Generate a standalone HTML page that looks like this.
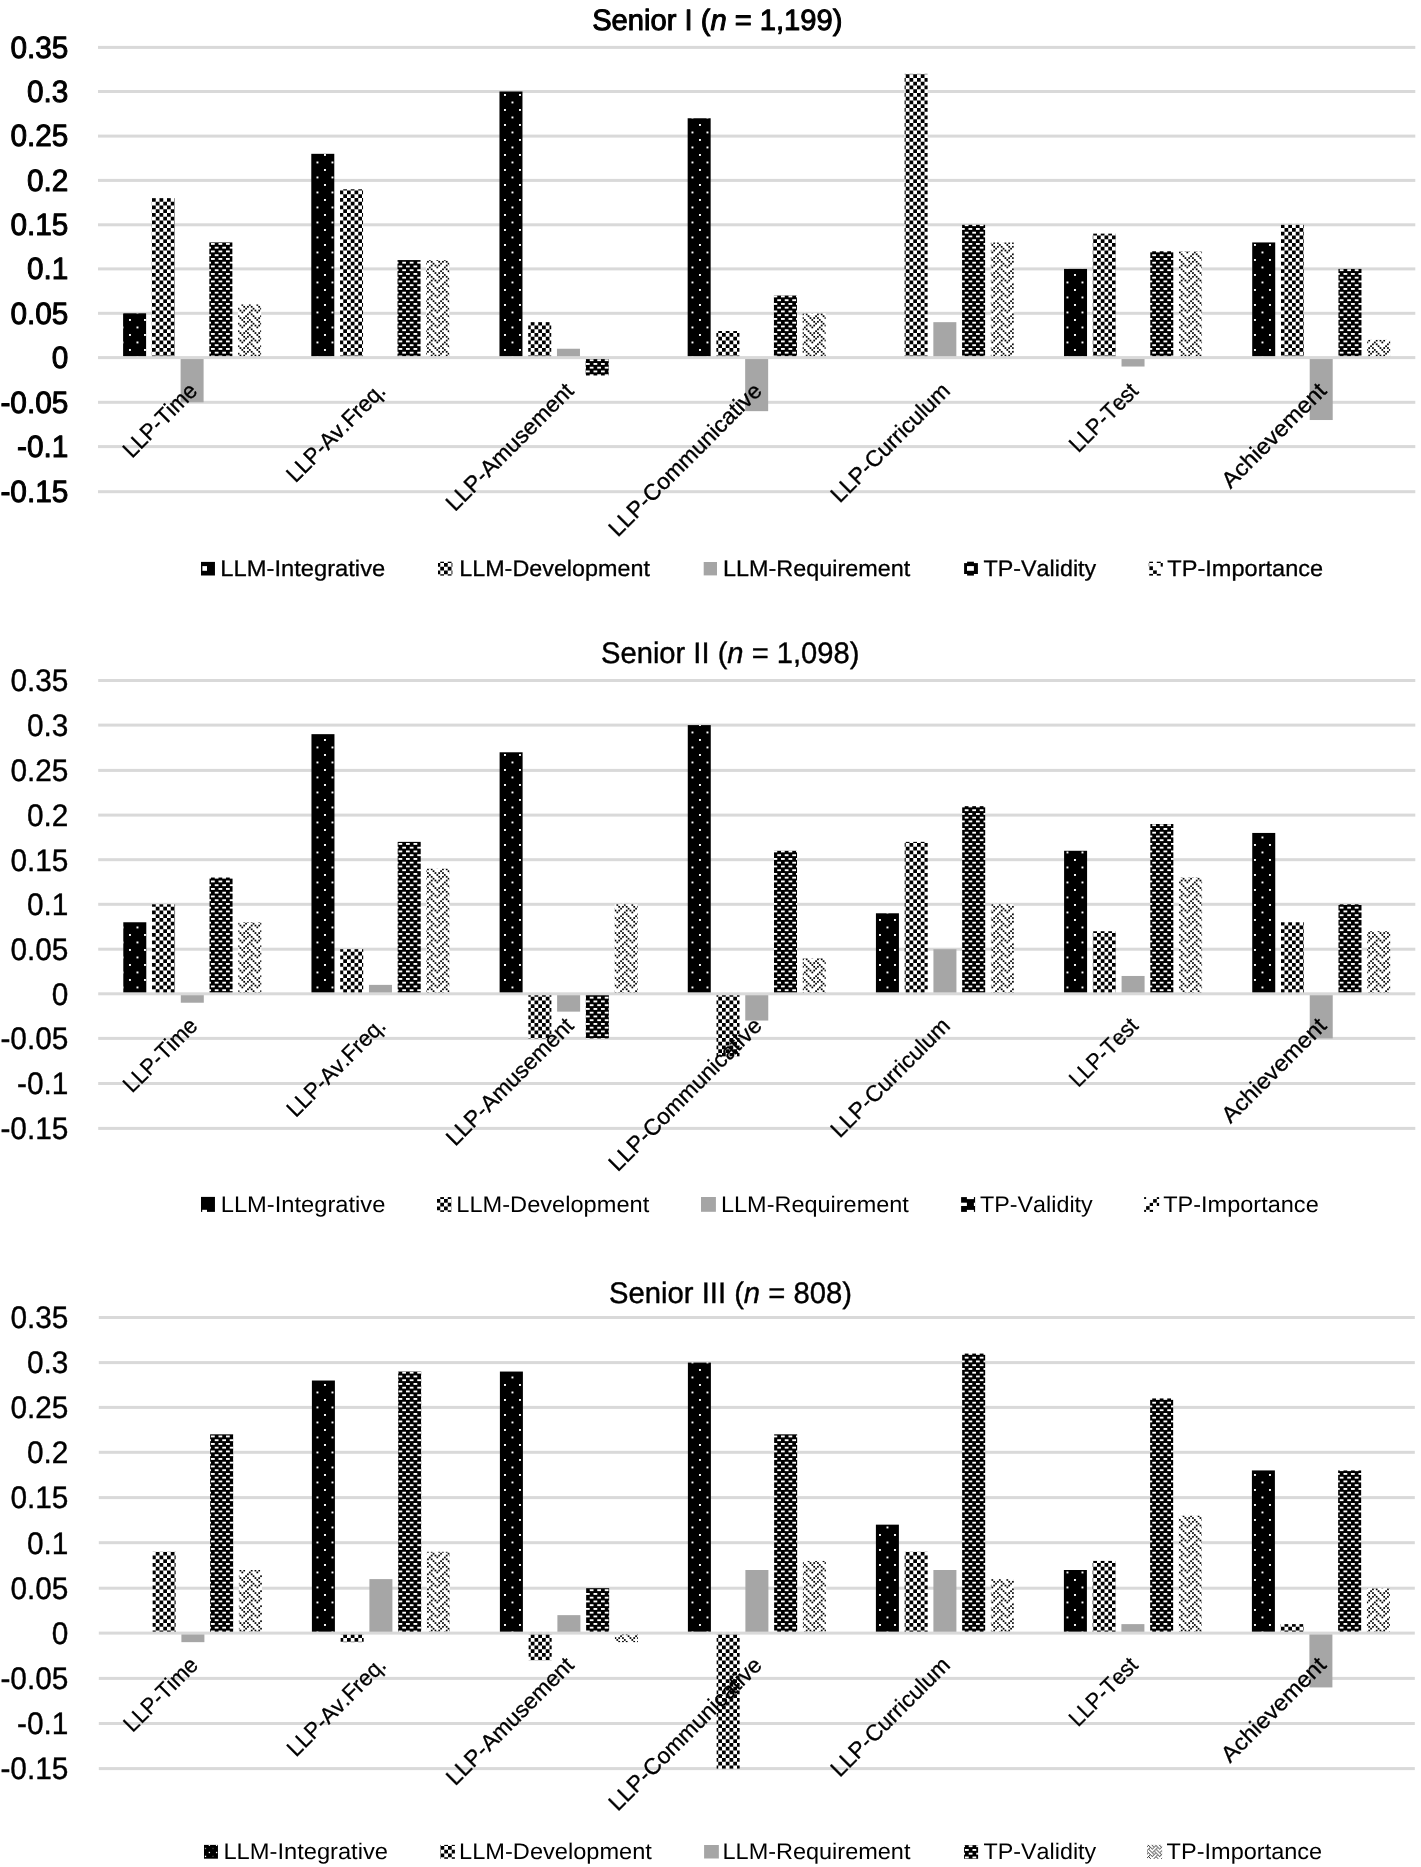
<!DOCTYPE html>
<html lang="en"><head><meta charset="utf-8"><title>Senior I, II, III bar charts</title>
<style>html,body{margin:0;padding:0;background:#fff;}body{width:1421px;height:1867px;overflow:hidden;}svg{display:block;will-change:transform;}text{font-family:"Liberation Sans", sans-serif;font-kerning:none;text-rendering:geometricPrecision;}</style>
</head><body>
<svg width="1421" height="1867" viewBox="0 0 1421 1867" role="img" aria-label="Bar charts for Senior I, Senior II and Senior III">
<rect width="1421" height="1867" fill="#fff"/>
<defs>
<pattern id="pDot" patternUnits="userSpaceOnUse" x="504" y="94" width="15" height="15"><rect width="16" height="16" fill="#000"/><rect x="0" y="0" width="1.93" height="1.93" fill="#fff"/><rect x="7.5" y="7.5" width="1.93" height="1.93" fill="#fff"/></pattern>
<pattern id="pChk" patternUnits="userSpaceOnUse" x="152" y="198" width="15" height="15"><rect width="16" height="16" fill="#fff"/><g fill="#000"><rect x="0" y="0" width="3.75" height="3.75"/><rect x="0" y="7.5" width="3.75" height="3.75"/><rect x="3.75" y="3.75" width="3.75" height="3.75"/><rect x="3.75" y="11.25" width="3.75" height="3.75"/><rect x="7.5" y="0" width="3.75" height="3.75"/><rect x="7.5" y="7.5" width="3.75" height="3.75"/><rect x="11.25" y="3.75" width="3.75" height="3.75"/><rect x="11.25" y="11.25" width="3.75" height="3.75"/></g></pattern>
<pattern id="pBrk" patternUnits="userSpaceOnUse" x="211" y="243" width="15" height="15"><rect width="16" height="16" fill="#000"/><g fill="#fff"><rect x="0" y="0" width="3.75" height="1.88"/><rect x="7.5" y="0" width="3.75" height="1.88"/><rect x="3.75" y="3.75" width="3.75" height="1.88"/><rect x="11.25" y="3.75" width="3.75" height="1.88"/><rect x="0" y="7.5" width="3.75" height="1.88"/><rect x="7.5" y="7.5" width="3.75" height="1.88"/><rect x="3.75" y="11.25" width="3.75" height="1.88"/><rect x="11.25" y="11.25" width="3.75" height="1.88"/></g></pattern>
<pattern id="pWev" patternUnits="userSpaceOnUse" x="427" y="259" width="15" height="15"><rect width="16" height="16" fill="#fff"/><g fill="#000"><rect x="1.94" y="0.07" width="1.74" height="1.74"/><rect x="9.44" y="0.07" width="1.74" height="1.74"/><rect x="0.07" y="1.94" width="1.74" height="1.74"/><rect x="3.82" y="1.94" width="1.74" height="1.74"/><rect x="11.32" y="1.94" width="1.74" height="1.74"/><rect x="5.69" y="3.82" width="1.74" height="1.74"/><rect x="13.19" y="3.82" width="1.74" height="1.74"/><rect x="3.82" y="5.69" width="1.74" height="1.74"/><rect x="7.57" y="5.69" width="1.74" height="1.74"/><rect x="11.32" y="5.69" width="1.74" height="1.74"/><rect x="1.94" y="7.57" width="1.74" height="1.74"/><rect x="9.44" y="7.57" width="1.74" height="1.74"/><rect x="0.07" y="9.44" width="1.74" height="1.74"/><rect x="3.82" y="9.44" width="1.74" height="1.74"/><rect x="5.69" y="11.32" width="1.74" height="1.74"/><rect x="13.19" y="11.32" width="1.74" height="1.74"/><rect x="0.07" y="13.19" width="1.74" height="1.74"/><rect x="7.57" y="13.19" width="1.74" height="1.74"/><rect x="11.32" y="13.19" width="1.74" height="1.74"/></g></pattern>
</defs>
<g>
<g fill="#d9d9d9">
<rect x="98" y="45.9" width="1317.3" height="3"/>
<rect x="98" y="90" width="1317.3" height="3"/>
<rect x="98" y="134.6" width="1317.3" height="3"/>
<rect x="98" y="178.9" width="1317.3" height="3"/>
<rect x="98" y="223.3" width="1317.3" height="3"/>
<rect x="98" y="267.4" width="1317.3" height="3"/>
<rect x="98" y="311.8" width="1317.3" height="3"/>
<rect x="98" y="400.8" width="1317.3" height="3"/>
<rect x="98" y="445.1" width="1317.3" height="3"/>
<rect x="98" y="490.2" width="1317.3" height="3"/>
</g>
<g>
<rect x="123.1" y="313.3" width="23" height="44.3" fill="url(#pDot)"/>
<rect x="151.85" y="198.16" width="23" height="159.44" fill="url(#pChk)"/>
<rect x="180.6" y="357.6" width="23" height="44.7" fill="#a6a6a6"/>
<rect x="209.35" y="242.44" width="23" height="115.16" fill="url(#pBrk)"/>
<rect x="238.1" y="304.42" width="23" height="53.18" fill="url(#pWev)"/>
<rect x="311.29" y="153.82" width="23" height="203.78" fill="url(#pDot)"/>
<rect x="340.04" y="189.28" width="23" height="168.32" fill="url(#pChk)"/>
<rect x="397.54" y="260.08" width="23" height="97.52" fill="url(#pBrk)"/>
<rect x="426.29" y="260.08" width="23" height="97.52" fill="url(#pWev)"/>
<rect x="499.47" y="91.5" width="23" height="266.1" fill="url(#pDot)"/>
<rect x="528.22" y="322.16" width="23" height="35.44" fill="url(#pChk)"/>
<rect x="556.97" y="348.74" width="23" height="8.86" fill="#a6a6a6"/>
<rect x="585.72" y="357.6" width="23" height="17.88" fill="url(#pBrk)"/>
<rect x="687.66" y="118.26" width="23" height="239.34" fill="url(#pDot)"/>
<rect x="716.41" y="331.02" width="23" height="26.58" fill="url(#pChk)"/>
<rect x="745.16" y="357.6" width="23" height="53.56" fill="#a6a6a6"/>
<rect x="773.91" y="295.54" width="23" height="62.06" fill="url(#pBrk)"/>
<rect x="802.66" y="313.3" width="23" height="44.3" fill="url(#pWev)"/>
<rect x="904.59" y="73.86" width="23" height="283.74" fill="url(#pChk)"/>
<rect x="933.34" y="322.16" width="23" height="35.44" fill="#a6a6a6"/>
<rect x="962.09" y="224.8" width="23" height="132.8" fill="url(#pBrk)"/>
<rect x="990.84" y="242.44" width="23" height="115.16" fill="url(#pWev)"/>
<rect x="1064.03" y="268.9" width="23" height="88.7" fill="url(#pDot)"/>
<rect x="1092.78" y="233.62" width="23" height="123.98" fill="url(#pChk)"/>
<rect x="1121.53" y="357.6" width="23" height="8.94" fill="#a6a6a6"/>
<rect x="1150.28" y="251.26" width="23" height="106.34" fill="url(#pBrk)"/>
<rect x="1179.03" y="251.26" width="23" height="106.34" fill="url(#pWev)"/>
<rect x="1252.21" y="242.44" width="23" height="115.16" fill="url(#pDot)"/>
<rect x="1280.96" y="224.8" width="23" height="132.8" fill="url(#pChk)"/>
<rect x="1309.71" y="357.6" width="23" height="62.42" fill="#a6a6a6"/>
<rect x="1338.46" y="268.9" width="23" height="88.7" fill="url(#pBrk)"/>
<rect x="1367.21" y="339.88" width="23" height="17.72" fill="url(#pWev)"/>
</g>
<rect x="98" y="356.1" width="1317.3" height="3" fill="#d9d9d9"/>
<g fill="#000" stroke="#000" stroke-width="1" stroke-linejoin="round">
<text x="592.15" y="29.6" font-size="29.41" textLength="250.3" lengthAdjust="spacingAndGlyphs">Senior I (<tspan font-style="italic">n</tspan> = 1,199)</text>
<text x="68.4" y="57.6" font-size="30.8" text-anchor="end" textLength="57.98" lengthAdjust="spacingAndGlyphs">0.35</text>
<text x="68.4" y="101.7" font-size="30.8" text-anchor="end" textLength="41.4" lengthAdjust="spacingAndGlyphs">0.3</text>
<text x="68.4" y="146.3" font-size="30.8" text-anchor="end" textLength="57.98" lengthAdjust="spacingAndGlyphs">0.25</text>
<text x="68.4" y="190.6" font-size="30.8" text-anchor="end" textLength="41.4" lengthAdjust="spacingAndGlyphs">0.2</text>
<text x="68.4" y="235" font-size="30.8" text-anchor="end" textLength="57.98" lengthAdjust="spacingAndGlyphs">0.15</text>
<text x="68.4" y="279.1" font-size="30.8" text-anchor="end" textLength="41.4" lengthAdjust="spacingAndGlyphs">0.1</text>
<text x="68.4" y="323.5" font-size="30.8" text-anchor="end" textLength="57.98" lengthAdjust="spacingAndGlyphs">0.05</text>
<text x="68.4" y="367.8" font-size="30.8" text-anchor="end" textLength="16.57" lengthAdjust="spacingAndGlyphs">0</text>
<text x="68.4" y="412.5" font-size="30.8" text-anchor="end" textLength="67.99" lengthAdjust="spacingAndGlyphs">-0.05</text>
<text x="68.4" y="456.8" font-size="30.8" text-anchor="end" textLength="51.41" lengthAdjust="spacingAndGlyphs">-0.1</text>
<text x="68.4" y="501.9" font-size="30.8" text-anchor="end" textLength="67.99" lengthAdjust="spacingAndGlyphs">-0.15</text>
</g>
<g fill="#000" stroke="#000" stroke-width="0.35" stroke-linejoin="round">
<text transform="translate(198.59 392.2) rotate(-45)" font-size="22.6" text-anchor="end" textLength="94.32" lengthAdjust="spacingAndGlyphs">LLP-Time</text>
<text transform="translate(386.78 392.2) rotate(-45)" font-size="22.6" text-anchor="end" textLength="129.03" lengthAdjust="spacingAndGlyphs">LLP-Av.Freq.</text>
<text transform="translate(574.96 392.2) rotate(-45)" font-size="22.6" text-anchor="end" textLength="169.62" lengthAdjust="spacingAndGlyphs">LLP-Amusement</text>
<text transform="translate(763.15 392.2) rotate(-45)" font-size="22.6" text-anchor="end" textLength="205.68" lengthAdjust="spacingAndGlyphs">LLP-Communicative</text>
<text transform="translate(951.34 392.2) rotate(-45)" font-size="22.6" text-anchor="end" textLength="157.8" lengthAdjust="spacingAndGlyphs">LLP-Curriculum</text>
<text transform="translate(1139.52 392.2) rotate(-45)" font-size="22.6" text-anchor="end" textLength="86.57" lengthAdjust="spacingAndGlyphs">LLP-Test</text>
<text transform="translate(1327.71 392.2) rotate(-45)" font-size="22.6" text-anchor="end" textLength="137.5" lengthAdjust="spacingAndGlyphs">Achievement</text>
</g>
<g fill="#000" stroke="#000" stroke-width="0.3" stroke-linejoin="round">
<text x="220.32" y="576.4" font-size="22.6" textLength="164.89" lengthAdjust="spacingAndGlyphs">LLM-Integrative</text>
<text x="459.22" y="576.4" font-size="22.6" textLength="190.69" lengthAdjust="spacingAndGlyphs">LLM-Development</text>
<text x="723.12" y="576.4" font-size="22.6" textLength="187.09" lengthAdjust="spacingAndGlyphs">LLM-Requirement</text>
<text x="983.52" y="576.4" font-size="22.6" textLength="112.69" lengthAdjust="spacingAndGlyphs">TP-Validity</text>
<text x="1167.32" y="576.4" font-size="22.6" textLength="155.89" lengthAdjust="spacingAndGlyphs">TP-Importance</text>
</g>
<g>
<defs><pattern id="c1chk" href="#pChk" x="444" y="563"/></defs>
<rect x="201" y="561.9" width="13.95" height="13.6" fill="#000"/><rect x="202.4" y="566.1" width="4.6" height="4.7" fill="#fff"/>
<rect x="438" y="561.7" width="14.4" height="13.9" fill="url(#c1chk)"/>
<rect x="703.7" y="562" width="13.3" height="13.4" fill="#a5a5a5"/>
<rect x="964.1" y="563.1" width="13.8" height="10.9" fill="#000"/><rect x="967.1" y="561.7" width="6.8" height="13.9" fill="#000"/><rect x="967" y="566.1" width="6.9" height="4.7" fill="#fff"/>
<g fill="#000"><rect x="1149.2" y="561.7" width="3.8" height="1.3"/><rect x="1156.8" y="561.7" width="4" height="1.3"/><rect x="1148.4" y="563" width="1" height="3.3" fill="#999"/><rect x="1160.7" y="563" width="2.1" height="3.6"/><rect x="1149.4" y="566.3" width="3.5" height="3.8"/><rect x="1153.1" y="570.4" width="3.7" height="3.5"/><rect x="1149.2" y="573.9" width="3.8" height="1.7"/><rect x="1156.8" y="573.9" width="4" height="1.7"/></g>
</g>
</g>
<g>
<g fill="#d9d9d9">
<rect x="98.2" y="679" width="1317.1" height="3"/>
<rect x="98.2" y="723.6" width="1317.1" height="3"/>
<rect x="98.2" y="768.9" width="1317.1" height="3"/>
<rect x="98.2" y="813.6" width="1317.1" height="3"/>
<rect x="98.2" y="858.2" width="1317.1" height="3"/>
<rect x="98.2" y="902.8" width="1317.1" height="3"/>
<rect x="98.2" y="947.7" width="1317.1" height="3"/>
<rect x="98.2" y="1036.9" width="1317.1" height="3"/>
<rect x="98.2" y="1082" width="1317.1" height="3"/>
<rect x="98.2" y="1126.9" width="1317.1" height="3"/>
</g>
<g>
<rect x="123.3" y="922.26" width="23" height="71.54" fill="url(#pDot)"/>
<rect x="152.05" y="904.3" width="23" height="89.5" fill="url(#pChk)"/>
<rect x="180.8" y="993.8" width="23" height="8.92" fill="#a6a6a6"/>
<rect x="209.55" y="877.54" width="23" height="116.26" fill="url(#pBrk)"/>
<rect x="238.3" y="922.26" width="23" height="71.54" fill="url(#pWev)"/>
<rect x="311.46" y="734.16" width="23" height="259.64" fill="url(#pDot)"/>
<rect x="340.21" y="949.2" width="23" height="44.6" fill="url(#pChk)"/>
<rect x="368.96" y="984.88" width="23" height="8.92" fill="#a6a6a6"/>
<rect x="397.71" y="841.86" width="23" height="151.94" fill="url(#pBrk)"/>
<rect x="426.46" y="868.62" width="23" height="125.18" fill="url(#pWev)"/>
<rect x="499.61" y="752.28" width="23" height="241.52" fill="url(#pDot)"/>
<rect x="528.36" y="993.8" width="23" height="44.6" fill="url(#pChk)"/>
<rect x="557.11" y="993.8" width="23" height="17.84" fill="#a6a6a6"/>
<rect x="585.86" y="993.8" width="23" height="44.6" fill="url(#pBrk)"/>
<rect x="614.61" y="904.3" width="23" height="89.5" fill="url(#pWev)"/>
<rect x="687.77" y="725.1" width="23" height="268.7" fill="url(#pDot)"/>
<rect x="716.52" y="993.8" width="23" height="62.64" fill="url(#pChk)"/>
<rect x="745.27" y="993.8" width="23" height="26.76" fill="#a6a6a6"/>
<rect x="774.02" y="850.78" width="23" height="143.02" fill="url(#pBrk)"/>
<rect x="802.77" y="958.12" width="23" height="35.68" fill="url(#pWev)"/>
<rect x="875.93" y="913.28" width="23" height="80.52" fill="url(#pDot)"/>
<rect x="904.68" y="841.86" width="23" height="151.94" fill="url(#pChk)"/>
<rect x="933.43" y="949.2" width="23" height="44.6" fill="#a6a6a6"/>
<rect x="962.18" y="806.16" width="23" height="187.64" fill="url(#pBrk)"/>
<rect x="990.93" y="904.3" width="23" height="89.5" fill="url(#pWev)"/>
<rect x="1064.09" y="850.78" width="23" height="143.02" fill="url(#pDot)"/>
<rect x="1092.84" y="931.24" width="23" height="62.56" fill="url(#pChk)"/>
<rect x="1121.59" y="975.96" width="23" height="17.84" fill="#a6a6a6"/>
<rect x="1150.34" y="824.02" width="23" height="169.78" fill="url(#pBrk)"/>
<rect x="1179.09" y="877.54" width="23" height="116.26" fill="url(#pWev)"/>
<rect x="1252.24" y="832.94" width="23" height="160.86" fill="url(#pDot)"/>
<rect x="1280.99" y="922.26" width="23" height="71.54" fill="url(#pChk)"/>
<rect x="1309.74" y="993.8" width="23" height="44.6" fill="#a6a6a6"/>
<rect x="1338.49" y="904.3" width="23" height="89.5" fill="url(#pBrk)"/>
<rect x="1367.24" y="931.24" width="23" height="62.56" fill="url(#pWev)"/>
</g>
<rect x="98.2" y="992.3" width="1317.1" height="3" fill="#d9d9d9"/>
<g fill="#000" stroke="#000" stroke-width="0.4" stroke-linejoin="round">
<text x="601.05" y="662.7" font-size="29.7" textLength="258.3" lengthAdjust="spacingAndGlyphs">Senior II (<tspan font-style="italic">n</tspan> = 1,098)</text>
<text x="68.4" y="691.3" font-size="31.1" text-anchor="end" textLength="57.98" lengthAdjust="spacingAndGlyphs">0.35</text>
<text x="68.4" y="735.9" font-size="31.1" text-anchor="end" textLength="41.4" lengthAdjust="spacingAndGlyphs">0.3</text>
<text x="68.4" y="781.2" font-size="31.1" text-anchor="end" textLength="57.98" lengthAdjust="spacingAndGlyphs">0.25</text>
<text x="68.4" y="825.9" font-size="31.1" text-anchor="end" textLength="41.4" lengthAdjust="spacingAndGlyphs">0.2</text>
<text x="68.4" y="870.5" font-size="31.1" text-anchor="end" textLength="57.98" lengthAdjust="spacingAndGlyphs">0.15</text>
<text x="68.4" y="915.1" font-size="31.1" text-anchor="end" textLength="41.4" lengthAdjust="spacingAndGlyphs">0.1</text>
<text x="68.4" y="960" font-size="31.1" text-anchor="end" textLength="57.98" lengthAdjust="spacingAndGlyphs">0.05</text>
<text x="68.4" y="1004.6" font-size="31.1" text-anchor="end" textLength="16.57" lengthAdjust="spacingAndGlyphs">0</text>
<text x="68.4" y="1049.2" font-size="31.1" text-anchor="end" textLength="67.99" lengthAdjust="spacingAndGlyphs">-0.05</text>
<text x="68.4" y="1094.3" font-size="31.1" text-anchor="end" textLength="51.41" lengthAdjust="spacingAndGlyphs">-0.1</text>
<text x="68.4" y="1139.2" font-size="31.1" text-anchor="end" textLength="67.99" lengthAdjust="spacingAndGlyphs">-0.15</text>
</g>
<g fill="#000" stroke="#000" stroke-width="0.3" stroke-linejoin="round">
<text transform="translate(198.78 1027.1) rotate(-45)" font-size="22.6" text-anchor="end" textLength="94.32" lengthAdjust="spacingAndGlyphs">LLP-Time</text>
<text transform="translate(386.94 1027.1) rotate(-45)" font-size="22.6" text-anchor="end" textLength="129.03" lengthAdjust="spacingAndGlyphs">LLP-Av.Freq.</text>
<text transform="translate(575.09 1027.1) rotate(-45)" font-size="22.6" text-anchor="end" textLength="169.62" lengthAdjust="spacingAndGlyphs">LLP-Amusement</text>
<text transform="translate(763.25 1027.1) rotate(-45)" font-size="22.6" text-anchor="end" textLength="205.68" lengthAdjust="spacingAndGlyphs">LLP-Communicative</text>
<text transform="translate(951.41 1027.1) rotate(-45)" font-size="22.6" text-anchor="end" textLength="157.8" lengthAdjust="spacingAndGlyphs">LLP-Curriculum</text>
<text transform="translate(1139.56 1027.1) rotate(-45)" font-size="22.6" text-anchor="end" textLength="86.57" lengthAdjust="spacingAndGlyphs">LLP-Test</text>
<text transform="translate(1327.72 1027.1) rotate(-45)" font-size="22.6" text-anchor="end" textLength="137.5" lengthAdjust="spacingAndGlyphs">Achievement</text>
</g>
<g fill="#000">
<text x="220.72" y="1211.7" font-size="22.6" textLength="164.69" lengthAdjust="spacingAndGlyphs">LLM-Integrative</text>
<text x="456.32" y="1211.7" font-size="22.6" textLength="192.89" lengthAdjust="spacingAndGlyphs">LLM-Development</text>
<text x="721.02" y="1211.7" font-size="22.6" textLength="187.79" lengthAdjust="spacingAndGlyphs">LLM-Requirement</text>
<text x="980.02" y="1211.7" font-size="22.6" textLength="112.69" lengthAdjust="spacingAndGlyphs">TP-Validity</text>
<text x="1163.22" y="1211.7" font-size="22.6" textLength="155.49" lengthAdjust="spacingAndGlyphs">TP-Importance</text>
</g>
<g>
<defs><pattern id="c2chk" href="#pChk" x="444" y="1199"/></defs>
<rect x="201" y="1196.9" width="13.95" height="15" fill="#000"/><rect x="202.2" y="1209.8" width="4.8" height="2.2" fill="#fff"/>
<rect x="437" y="1197.1" width="14.5" height="14.8" fill="url(#c2chk)"/>
<rect x="701" y="1197" width="14.9" height="14.8" fill="#a5a5a5"/>
<rect x="961.1" y="1197.1" width="14" height="14.8" fill="#000"/><g fill="#fff"><rect x="966.9" y="1197" width="7" height="2.1"/><rect x="961" y="1202.7" width="5.9" height="3.3"/><rect x="973.9" y="1202.7" width="1.3" height="3.3"/><rect x="966.9" y="1209.9" width="7" height="2.1"/></g>
<g fill="#000"><rect x="1144.1" y="1197.1" width="2" height="1.9"/><rect x="1156.8" y="1197.1" width="2.3" height="1.9"/><rect x="1153.1" y="1199.1" width="3.7" height="3.6"/><rect x="1149.7" y="1202.9" width="3.3" height="3.1"/><rect x="1156.8" y="1202.9" width="2.3" height="3.1"/><rect x="1146.1" y="1206.1" width="3.5" height="3.7"/><rect x="1144.1" y="1209.9" width="2" height="2"/><rect x="1149.7" y="1209.9" width="3.3" height="2"/></g>
</g>
</g>
<g>
<g fill="#d9d9d9">
<rect x="98.8" y="1316" width="1316" height="3"/>
<rect x="98.8" y="1361.1" width="1316" height="3"/>
<rect x="98.8" y="1405.9" width="1316" height="3"/>
<rect x="98.8" y="1450.8" width="1316" height="3"/>
<rect x="98.8" y="1496.1" width="1316" height="3"/>
<rect x="98.8" y="1541.2" width="1316" height="3"/>
<rect x="98.8" y="1586.7" width="1316" height="3"/>
<rect x="98.8" y="1676.9" width="1316" height="3"/>
<rect x="98.8" y="1722" width="1316" height="3"/>
<rect x="98.8" y="1767.1" width="1316" height="3"/>
</g>
<g>
<rect x="152.65" y="1551.8" width="23" height="81.3" fill="url(#pChk)"/>
<rect x="181.4" y="1633.1" width="23" height="9.06" fill="#a6a6a6"/>
<rect x="210.15" y="1434.34" width="23" height="198.76" fill="url(#pBrk)"/>
<rect x="238.9" y="1570" width="23" height="63.1" fill="url(#pWev)"/>
<rect x="311.9" y="1380.52" width="23" height="252.58" fill="url(#pDot)"/>
<rect x="340.65" y="1633.1" width="23" height="9.06" fill="url(#pChk)"/>
<rect x="369.4" y="1579.1" width="23" height="54" fill="#a6a6a6"/>
<rect x="398.15" y="1371.56" width="23" height="261.54" fill="url(#pBrk)"/>
<rect x="426.9" y="1551.8" width="23" height="81.3" fill="url(#pWev)"/>
<rect x="499.9" y="1371.56" width="23" height="261.54" fill="url(#pDot)"/>
<rect x="528.65" y="1633.1" width="23" height="27.18" fill="url(#pChk)"/>
<rect x="557.4" y="1615.14" width="23" height="17.96" fill="#a6a6a6"/>
<rect x="586.15" y="1588.2" width="23" height="44.9" fill="url(#pBrk)"/>
<rect x="614.9" y="1633.1" width="23" height="9.06" fill="url(#pWev)"/>
<rect x="687.9" y="1362.6" width="23" height="270.5" fill="url(#pDot)"/>
<rect x="716.65" y="1633.1" width="23" height="135.5" fill="url(#pChk)"/>
<rect x="745.4" y="1570" width="23" height="63.1" fill="#a6a6a6"/>
<rect x="774.15" y="1434.34" width="23" height="198.76" fill="url(#pBrk)"/>
<rect x="802.9" y="1560.9" width="23" height="72.2" fill="url(#pWev)"/>
<rect x="875.9" y="1524.66" width="23" height="108.44" fill="url(#pDot)"/>
<rect x="904.65" y="1551.8" width="23" height="81.3" fill="url(#pChk)"/>
<rect x="933.4" y="1570" width="23" height="63.1" fill="#a6a6a6"/>
<rect x="962.15" y="1353.58" width="23" height="279.52" fill="url(#pBrk)"/>
<rect x="990.9" y="1579.1" width="23" height="54" fill="url(#pWev)"/>
<rect x="1063.9" y="1570" width="23" height="63.1" fill="url(#pDot)"/>
<rect x="1092.65" y="1560.9" width="23" height="72.2" fill="url(#pChk)"/>
<rect x="1121.4" y="1624.12" width="23" height="8.98" fill="#a6a6a6"/>
<rect x="1150.15" y="1398.44" width="23" height="234.66" fill="url(#pBrk)"/>
<rect x="1178.9" y="1515.64" width="23" height="117.46" fill="url(#pWev)"/>
<rect x="1251.9" y="1470.42" width="23" height="162.68" fill="url(#pDot)"/>
<rect x="1280.65" y="1624.12" width="23" height="8.98" fill="url(#pChk)"/>
<rect x="1309.4" y="1633.1" width="23" height="54.32" fill="#a6a6a6"/>
<rect x="1338.15" y="1470.42" width="23" height="162.68" fill="url(#pBrk)"/>
<rect x="1366.9" y="1588.2" width="23" height="44.9" fill="url(#pWev)"/>
</g>
<rect x="98.8" y="1631.6" width="1316" height="3" fill="#d9d9d9"/>
<g fill="#000" stroke="#000" stroke-width="0.4" stroke-linejoin="round">
<text x="609.05" y="1303.4" font-size="29.7" textLength="242.9" lengthAdjust="spacingAndGlyphs">Senior III (<tspan font-style="italic">n</tspan> = 808)</text>
<text x="68.4" y="1328.3" font-size="31.1" text-anchor="end" textLength="57.98" lengthAdjust="spacingAndGlyphs">0.35</text>
<text x="68.4" y="1373.4" font-size="31.1" text-anchor="end" textLength="41.4" lengthAdjust="spacingAndGlyphs">0.3</text>
<text x="68.4" y="1418.2" font-size="31.1" text-anchor="end" textLength="57.98" lengthAdjust="spacingAndGlyphs">0.25</text>
<text x="68.4" y="1463.1" font-size="31.1" text-anchor="end" textLength="41.4" lengthAdjust="spacingAndGlyphs">0.2</text>
<text x="68.4" y="1508.4" font-size="31.1" text-anchor="end" textLength="57.98" lengthAdjust="spacingAndGlyphs">0.15</text>
<text x="68.4" y="1553.5" font-size="31.1" text-anchor="end" textLength="41.4" lengthAdjust="spacingAndGlyphs">0.1</text>
<text x="68.4" y="1599" font-size="31.1" text-anchor="end" textLength="57.98" lengthAdjust="spacingAndGlyphs">0.05</text>
<text x="68.4" y="1643.9" font-size="31.1" text-anchor="end" textLength="16.57" lengthAdjust="spacingAndGlyphs">0</text>
<text x="68.4" y="1689.2" font-size="31.1" text-anchor="end" textLength="67.99" lengthAdjust="spacingAndGlyphs">-0.05</text>
<text x="68.4" y="1734.3" font-size="31.1" text-anchor="end" textLength="51.41" lengthAdjust="spacingAndGlyphs">-0.1</text>
<text x="68.4" y="1779.4" font-size="31.1" text-anchor="end" textLength="67.99" lengthAdjust="spacingAndGlyphs">-0.15</text>
</g>
<g fill="#000" stroke="#000" stroke-width="0.3" stroke-linejoin="round">
<text transform="translate(199.3 1666.45) rotate(-45)" font-size="22.6" text-anchor="end" textLength="94.32" lengthAdjust="spacingAndGlyphs">LLP-Time</text>
<text transform="translate(387.3 1666.45) rotate(-45)" font-size="22.6" text-anchor="end" textLength="129.03" lengthAdjust="spacingAndGlyphs">LLP-Av.Freq.</text>
<text transform="translate(575.3 1666.45) rotate(-45)" font-size="22.6" text-anchor="end" textLength="169.62" lengthAdjust="spacingAndGlyphs">LLP-Amusement</text>
<text transform="translate(763.3 1666.45) rotate(-45)" font-size="22.6" text-anchor="end" textLength="205.68" lengthAdjust="spacingAndGlyphs">LLP-Communicative</text>
<text transform="translate(951.3 1666.45) rotate(-45)" font-size="22.6" text-anchor="end" textLength="157.8" lengthAdjust="spacingAndGlyphs">LLP-Curriculum</text>
<text transform="translate(1139.3 1666.45) rotate(-45)" font-size="22.6" text-anchor="end" textLength="86.57" lengthAdjust="spacingAndGlyphs">LLP-Test</text>
<text transform="translate(1327.3 1666.45) rotate(-45)" font-size="22.6" text-anchor="end" textLength="137.5" lengthAdjust="spacingAndGlyphs">Achievement</text>
</g>
<g fill="#000">
<text x="223.42" y="1859.3" font-size="22.6" textLength="164.59" lengthAdjust="spacingAndGlyphs">LLM-Integrative</text>
<text x="459.12" y="1859.3" font-size="22.6" textLength="192.79" lengthAdjust="spacingAndGlyphs">LLM-Development</text>
<text x="722.52" y="1859.3" font-size="22.6" textLength="187.89" lengthAdjust="spacingAndGlyphs">LLM-Requirement</text>
<text x="983.52" y="1859.3" font-size="22.6" textLength="112.69" lengthAdjust="spacingAndGlyphs">TP-Validity</text>
<text x="1166.62" y="1859.3" font-size="22.6" textLength="155.59" lengthAdjust="spacingAndGlyphs">TP-Importance</text>
</g>
<g>
<defs><pattern id="c3chk" href="#pChk" x="448" y="1846"/><pattern id="c3brk" href="#pBrk" x="965" y="1849"/><pattern id="c3wev" href="#pWev" x="0" y="0" patternTransform="translate(1147.1 1844.9) scale(0.5)"/></defs>
<rect x="204" y="1844.9" width="13.95" height="13.8" fill="#000"/>
<g fill="#fff"><rect x="208.75" y="1844.65" width="1.3" height="1.3" opacity="1"/><rect x="215.95" y="1844.65" width="1.3" height="1.3" opacity="1"/><rect x="204.85" y="1847.85" width="1.3" height="1.3" opacity="0.6"/><rect x="212.35" y="1847.85" width="1.3" height="1.3" opacity="0.25"/><rect x="208.75" y="1851.85" width="1.3" height="1.3" opacity="1"/><rect x="215.95" y="1851.85" width="1.3" height="1.3" opacity="1"/><rect x="204.85" y="1855.75" width="1.3" height="1.3" opacity="1"/><rect x="212.35" y="1855.75" width="1.3" height="1.3" opacity="0.3"/></g>
<rect x="440.1" y="1844.9" width="14.8" height="13.9" fill="url(#c3chk)"/>
<rect x="704.1" y="1845" width="14.75" height="13.5" fill="#a5a5a5"/>
<rect x="964.1" y="1845.1" width="14" height="13.7" fill="url(#c3brk)"/>
<rect x="1147.1" y="1844.9" width="15" height="13.9" fill="url(#c3wev)"/>
</g>
</g>
</svg>
</body></html>
